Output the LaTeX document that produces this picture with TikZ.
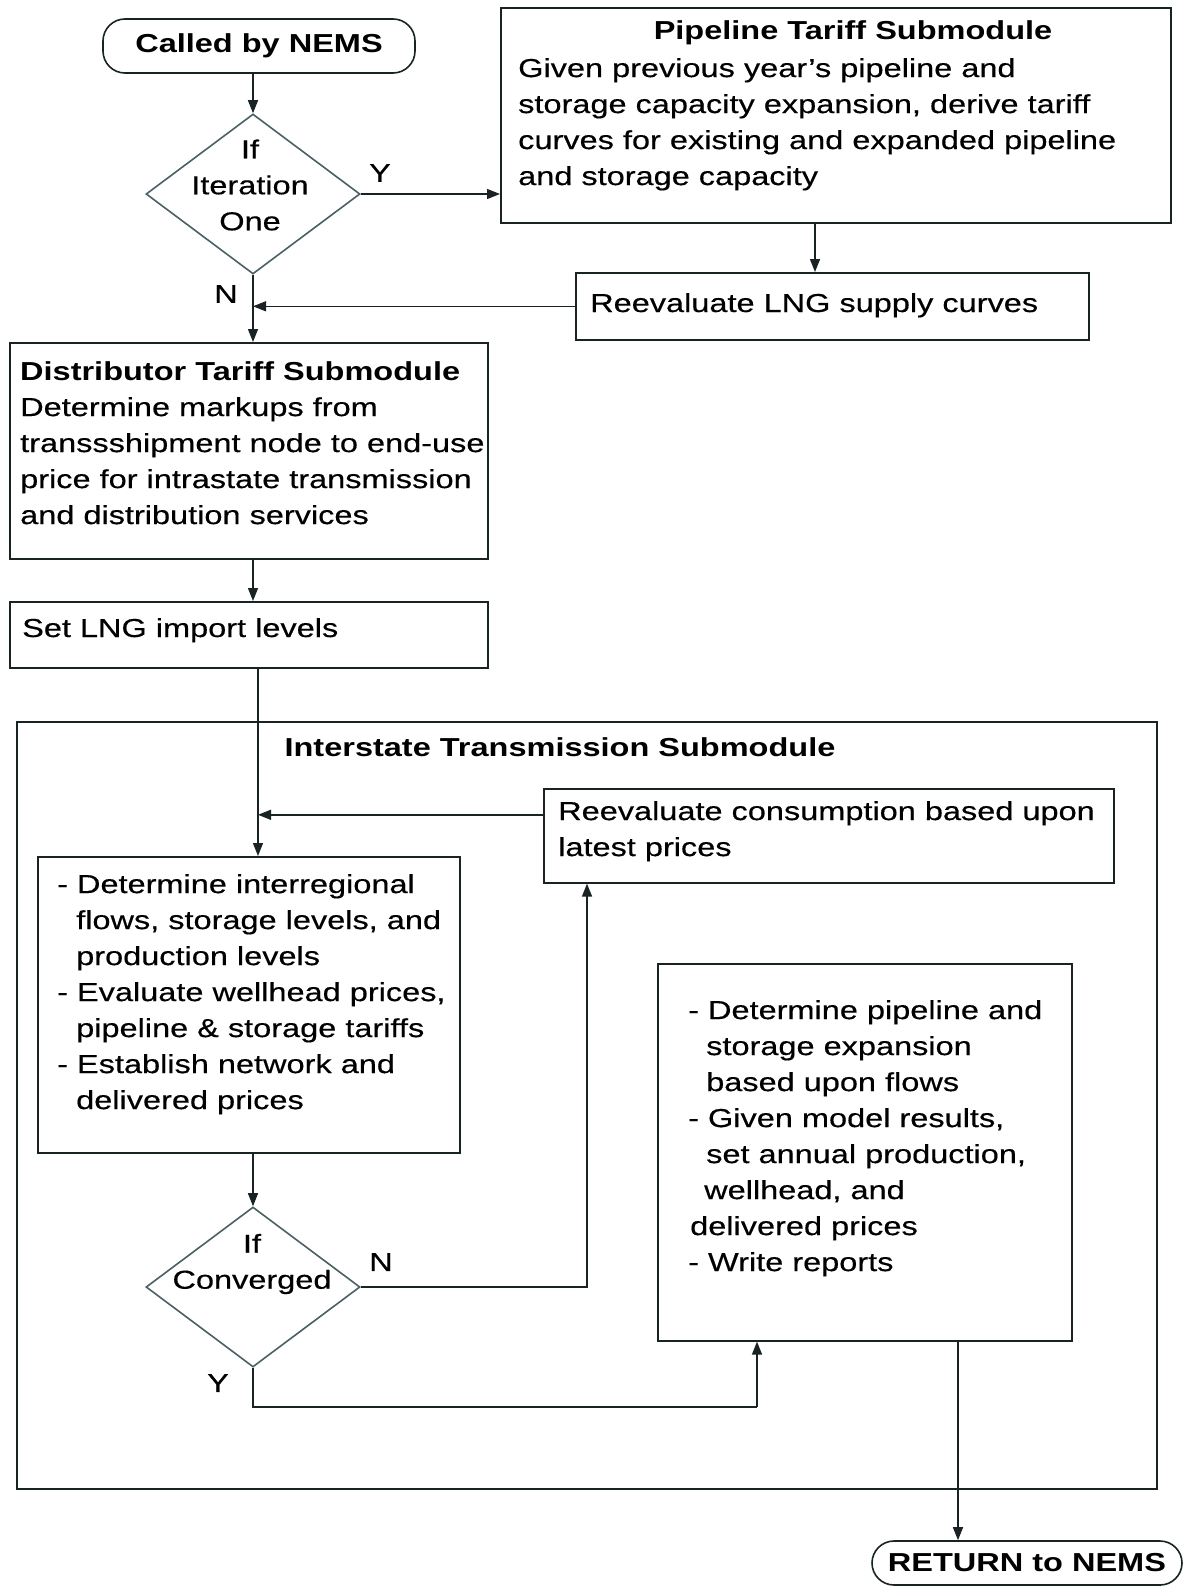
\documentclass[tikz,border=0pt]{standalone}
\usepackage{fontspec}
\setmainfont{Liberation Sans}[FakeStretch=1.25, UprightFeatures={FakeBold=0.4}]
\usetikzlibrary{arrows.meta,shapes.geometric}
\newcommand{\fsz}{\fontsize{26}{36}\selectfont}
\definecolor{boxline}{RGB}{25,35,35}
\definecolor{dialine}{RGB}{75,95,100}
\begin{document}
\begin{tikzpicture}[x=1pt,y=-1pt,
  box/.style={draw=boxline, line width=1.6pt, rectangle, inner sep=0pt, anchor=north west},
  stadium/.style={draw=boxline, line width=1.6pt, rectangle, rounded corners=22pt, inner sep=0pt, font=\fsz\bfseries},
  dia/.style={draw=dialine, line width=1.6pt, diamond, inner sep=0pt},
  txt/.style={inner sep=0pt, font=\fsz, align=left, anchor=north west},
  ctxt/.style={inner sep=0pt, font=\fsz, align=center},
  lbl/.style={inner sep=0pt, font=\fsz},
  arr/.style={-{Triangle[length=13pt,width=10pt]}, line width=1.4pt, draw=boxline},
  ln/.style={line width=1.4pt, draw=boxline}]
\useasboundingbox (0,0) rectangle (1199,1587);
\fill[white] (0,0) rectangle (1199,1587);

% nodes
\node[stadium, minimum width=312pt, minimum height=54pt] (called) at (259,46) {Called by NEMS};
\node[dia, minimum width=214pt, minimum height=160pt] (d1) at (253,194) {};
\node[ctxt] (d1t) at (250,185) {If\\Iteration\\One};
\node[box, minimum width=670pt, minimum height=215pt] (pipe) at (500,7) {};
\node[lbl, font=\fsz\bfseries, anchor=base] (pipet) at (853,40) {Pipeline Tariff Submodule};
\node[txt] (pipeb) at (518,58) {Given previous year’s pipeline and\\storage capacity expansion, derive tariff\\curves for existing and expanded pipeline\\and storage capacity};
\node[box, minimum width=513pt, minimum height=67pt] (rlng) at (575,272) {};
\node[lbl, anchor=base west] (rlngt) at (590,312) {Reevaluate LNG supply curves};
\node[box, minimum width=478pt, minimum height=216pt] (dist) at (9,342) {};
\node[txt] (distt) at (20,361) {\textbf{Distributor Tariff Submodule}\\Determine markups from\\transsshipment node to end-use\\price for intrastate transmission\\and distribution services};
\node[box, minimum width=478pt, minimum height=66pt] (setl) at (9,601) {};
\node[lbl, anchor=base west] (setlt) at (22,637) {Set LNG import levels};
\node[box, minimum width=1140pt, minimum height=767pt] (outer) at (16,721) {};
\node[lbl, font=\fsz\bfseries, anchor=base] (outert) at (560,756) {Interstate Transmission Submodule};
\node[box, minimum width=570pt, minimum height=94pt] (rcons) at (543,788) {};
\node[txt] (rconst) at (558,801) {Reevaluate consumption based upon\\latest prices};
\node[box, minimum width=422pt, minimum height=296pt] (det) at (37,856) {};
\node[txt] (dett) at (57,874) {- Determine interregional\\\hspace*{19pt}flows, storage levels, and\\\hspace*{19pt}production levels\\- Evaluate wellhead prices,\\\hspace*{19pt}pipeline \& storage tariffs\\- Establish network and\\\hspace*{19pt}delivered prices};
\node[dia, minimum width=214pt, minimum height=160pt] (d2) at (253,1287) {};
\node[ctxt] (d2t) at (252,1264) {If\\Converged};
\node[box, minimum width=414pt, minimum height=377pt] (rbox) at (657,963) {};
\node[txt] (rboxt) at (688,1000) {- Determine pipeline and\\\hspace*{18pt}storage expansion\\\hspace*{18pt}based upon flows\\- Given model results,\\\hspace*{18pt}set annual production,\\\hspace*{16pt}wellhead, and\\\hspace*{2pt}delivered prices\\- Write reports};
\node[stadium, minimum width=310pt, minimum height=44pt] (ret) at (1027,1563) {RETURN to NEMS};

% helper coordinates
\coordinate (c1) at (253,0);
\coordinate (cp) at (815,0);
\coordinate (c2) at (258,0);
\coordinate (c3) at (587,0);
\coordinate (c4) at (757,1407);
\coordinate (c5) at (958,0);

% connectors
\draw[arr] (c1 |- called.south) -- (d1.north);
\draw[arr] (d1.east) -- (d1.east -| pipe.west);
\draw[arr] (cp |- pipe.south) -- (cp |- rlng.north);
\draw[arr] (rlng.west) -- (rlng.west -| c1);
\draw[arr] (d1.south) -- (c1 |- dist.north);
\draw[arr] (c1 |- dist.south) -- (c1 |- setl.north);
\draw[arr] (c2 |- setl.south) -- (c2 |- det.north);
\draw[arr] ([yshift=21pt]rcons.west) -- ([yshift=21pt]rcons.west -| c2);
\draw[arr] (c1 |- det.south) -- (d2.north);
\draw[arr] (d2.east) -| (c3 |- rcons.south);
\draw[ln] (d2.south) |- (c4);
\draw[arr] (c4) -- (c4 |- rbox.south);
\draw[arr] (c5 |- rbox.south) -- (c5 |- ret.north);

% labels
\node[lbl] (ly1) at (380,173) {Y};
\node[lbl] (ln1) at (226,294) {N};
\node[lbl] (ln2) at (381,1262) {N};
\node[lbl] (ly2) at (218,1383) {Y};
\end{tikzpicture}
\end{document}
